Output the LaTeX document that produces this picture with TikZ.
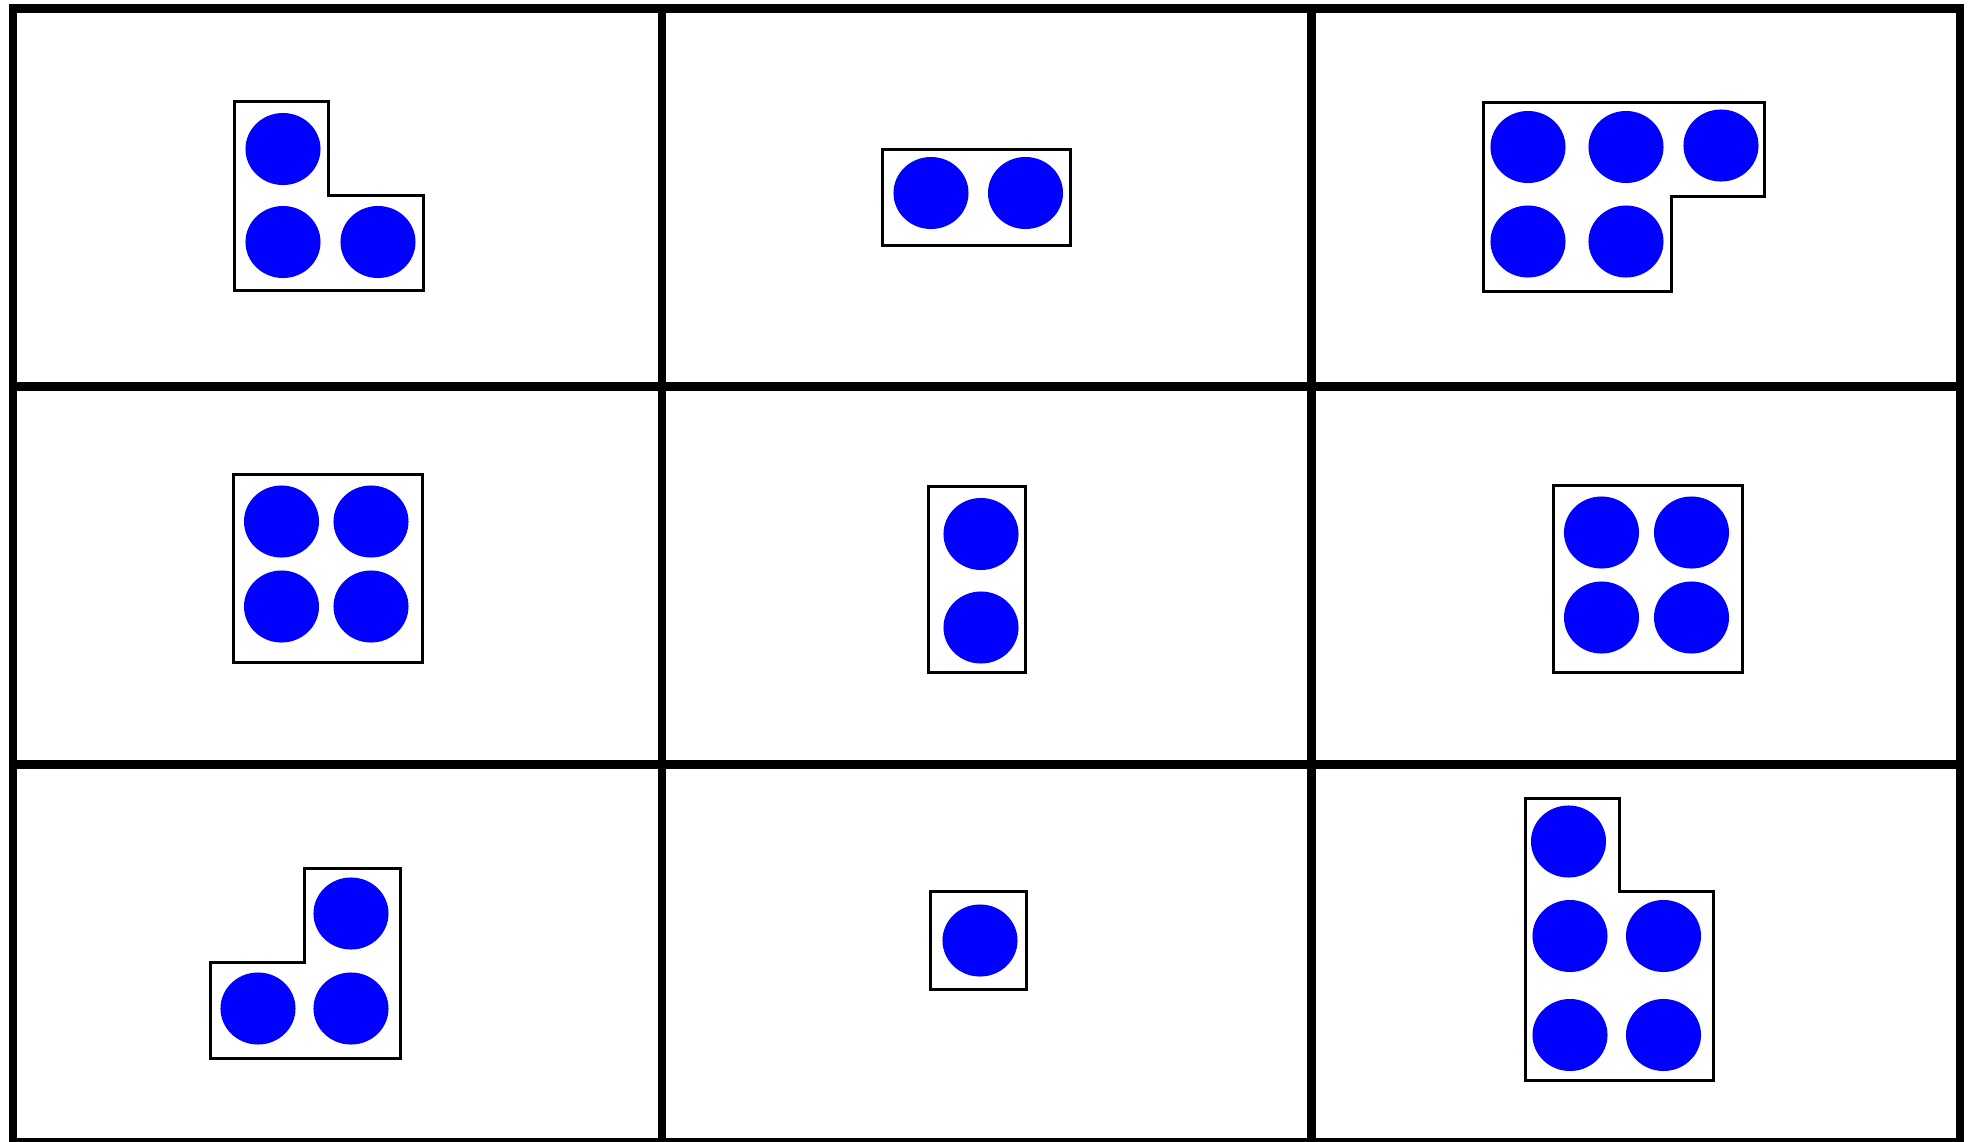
\documentclass[tikz,border=0pt]{standalone}
\usetikzlibrary{shapes.geometric}
\begin{document}
\begin{tikzpicture}[x=0.01cm, y=-0.01cm,
    ball/.style={ellipse, fill=blue, inner sep=0pt, minimum width=0.75cm, minimum height=0.72cm},
    piece/.style={draw=black, line width=0.03cm},
    gridline/.style={draw=black, line width=0.085cm}]
    \useasboundingbox (0,0) rectangle (1968,1142);

    % Grid
    \draw[gridline] (13,8.5) rectangle (1960,1142);
    \draw[gridline] (662,8.5) -- (662,1142);
    \draw[gridline] (1311.5,8.5) -- (1311.5,1142);
    \draw[gridline] (13,386.5) -- (1960,386.5);
    \draw[gridline] (13,764.5) -- (1960,764.5);

    % Row 1, left: three
    \draw[piece] (234,101) -- (328.8,101) -- (328.8,195.5) -- (423,195.5) -- (423,290) -- (234,290) -- cycle;
    \node[ball] (a1) at (283,149) {};
    \node[ball] (a2) at (283,242) {};
    \node[ball] (a3) at (378,242) {};

    % Row 1, middle: two
    \draw[piece] (882.5,149) rectangle (1070.5,245.5);
    \node[ball] (b1) at (931,193) {};
    \node[ball] (b2) at (1025.5,193) {};

    % Row 1, right: five
    \draw[piece] (1483.5,102) -- (1764.5,102) -- (1764.5,196) -- (1671,196) -- (1671,291.5) -- (1483.5,291.5) -- cycle;
    \node[ball] (c1) at (1528,147) {};
    \node[ball] (c2) at (1626,147) {};
    \node[ball] (c3) at (1721,145.5) {};
    \node[ball] (c4) at (1528,241.5) {};
    \node[ball] (c5) at (1626,241.5) {};

    % Row 2, left: four
    \draw[piece] (233,474) rectangle (422,662);
    \node[ball] (d1) at (281.5,521.5) {};
    \node[ball] (d2) at (371,521.5) {};
    \node[ball] (d3) at (281.5,606.5) {};
    \node[ball] (d4) at (371,606.5) {};

    % Row 2, middle: two
    \draw[piece] (928,486) rectangle (1025.5,672.5);
    \node[ball] (e1) at (981,534) {};
    \node[ball] (e2) at (981,627.5) {};

    % Row 2, right: four
    \draw[piece] (1553,485) rectangle (1742.5,672.5);
    \node[ball] (f1) at (1601.5,532.5) {};
    \node[ball] (f2) at (1691.5,532.5) {};
    \node[ball] (f3) at (1601.5,617.5) {};
    \node[ball] (f4) at (1691.5,617.5) {};

    % Row 3, left: three
    \draw[piece] (304,868) -- (400.5,868) -- (400.5,1058) -- (210,1058) -- (210,962.5) -- (304,962.5) -- cycle;
    \node[ball] (g1) at (351,913.5) {};
    \node[ball] (g2) at (258,1008.5) {};
    \node[ball] (g3) at (351,1008.5) {};

    % Row 3, middle: one
    \draw[piece] (930.5,891) rectangle (1026,989);
    \node[ball] (h1) at (980,940.5) {};

    % Row 3, right: five
    \draw[piece] (1525,798) -- (1619.5,798) -- (1619.5,891) -- (1713,891) -- (1713,1080) -- (1525,1080) -- cycle;
    \node[ball] (k1) at (1568.5,841.5) {};
    \node[ball] (k2) at (1570,936) {};
    \node[ball] (k3) at (1663.5,936) {};
    \node[ball] (k4) at (1570,1035) {};
    \node[ball] (k5) at (1663.5,1035) {};
\end{tikzpicture}
\end{document}
